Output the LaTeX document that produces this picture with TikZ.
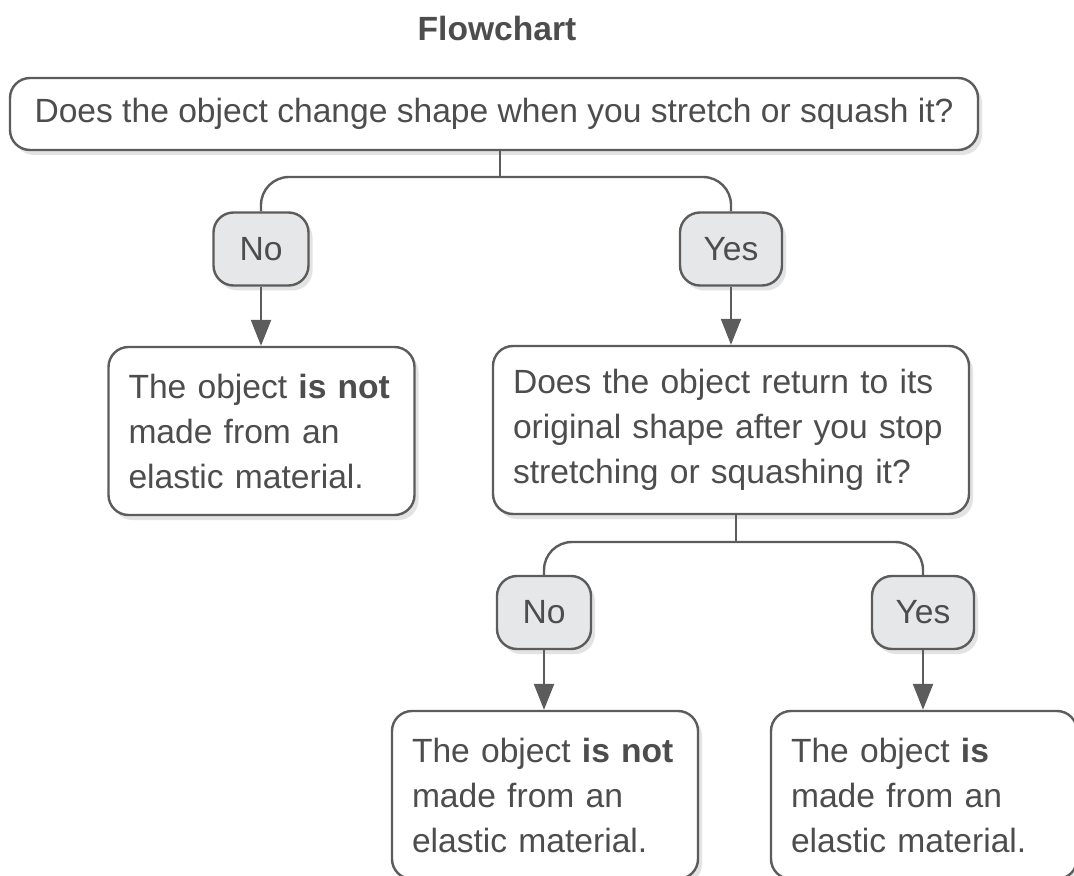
\documentclass[tikz,border=0pt]{standalone}
\usepackage{fontspec}
\setmainfont{Liberation Sans}
\usepackage{xcolor}
\definecolor{darkgraytext}{RGB}{77,77,77}
\definecolor{darkgrayline}{RGB}{92,92,92}
\definecolor{lightgrayfill}{RGB}{230,231,233}
\usepackage{tikz}
\usetikzlibrary{arrows.meta}
\usetikzlibrary{shadows}
\newcommand{\widthresult}{133pt}
\newcommand{\widthquestion}{218pt}
\newcommand{\heightbox}{84pt}
\newcommand{\boxfont}{\fontsize{16.8}{22.5}\selectfont}
\tikzset{
    common/.style={draw=darkgrayline, line width=1.2pt, rectangle, rounded corners=10pt,
        fill=white, text=darkgraytext, font=\boxfont,
        drop shadow={shadow xshift=2pt, shadow yshift=-2.5pt, fill=black!22}},
    question/.style={common, minimum width=484pt, minimum height=36pt},
    result/.style={common, align=left, inner xsep=10pt, inner ysep=0pt,
        text width=\widthresult, minimum height=\heightbox},
    bigquestion/.style={result, text width=\widthquestion},
    answer/.style={common, fill=lightgrayfill, minimum height=36.5pt, inner sep=0pt},
    link/.style={draw=darkgrayline, line width=1.2pt},
    arrow/.style={link, -{Triangle[width=10pt, length=13pt]}},
    branch/.style={link, rounded corners=14pt}
}

\begin{document}
\begin{tikzpicture}[x=0.5pt, y=-0.5pt]
    \clip (0,0) rectangle (1074,876);

    \node[text=darkgraytext, font=\boxfont\bfseries] (title) at (497,28) {Flowchart};

    \node[question] (Q1) at (494,114) {Does the object change shape when you stretch or squash it?};
    \node[answer, minimum width=47.5pt] (Q1-no) at (261,249) {No};
    \node[answer, minimum width=51pt] (Q1-yes) at (731,249) {Yes};

    \node[result] (R1) at (261.5,431) {The object \textbf{is not}\\made from an\\elastic material.};
    \node[bigquestion] (Q2) at (731,430) {Does the object return to its\\original shape after you stop\\stretching or squashing it?};
    \node[answer, minimum width=47pt] (Q2-no) at (544,612.5) {No};
    \node[answer, minimum width=51pt] (Q2-yes) at (923,612.5) {Yes};

    \node[result] (R2) at (545,795) {The object \textbf{is not}\\made from an\\elastic material.};
    \node[result] (R3) at (924,795) {The object \textbf{is}\\made from an\\elastic material.};

    \coordinate (J1) at (500,177);
    \coordinate (J2) at (736,542);

    \draw[link] (J1) -- (J1 |- Q1.south);
    \draw[branch] (Q1-no.north) |- (J1) -| (Q1-yes.north);
    \draw[link] (J2) -- (J2 |- Q2.south);
    \draw[branch] (Q2-no.north) |- (J2) -| (Q2-yes.north);

    \draw[arrow] (Q1-no.south) -- (Q1-no.south |- R1.north);
    \draw[arrow] (Q1-yes.south) -- (Q1-yes.south |- Q2.north);
    \draw[arrow] (Q2-no.south) -- (Q2-no.south |- R2.north);
    \draw[arrow] (Q2-yes.south) -- (Q2-yes.south |- R3.north);
\end{tikzpicture}
\end{document}
